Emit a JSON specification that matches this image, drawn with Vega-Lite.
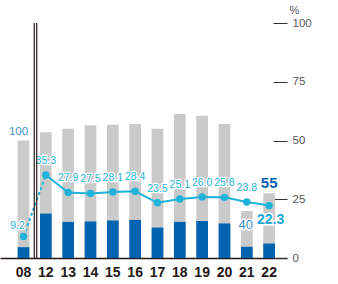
{
  "$schema": "https://vega.github.io/schema/vega-lite/v6.json",
  "width": 287,
  "height": 235,
  "autosize": {"type": "none"},
  "padding": {"left": 0, "top": 23, "right": 51, "bottom": 26},
  "config": {"view": {"stroke": null}, "font": "Liberation Sans, Arial, sans-serif"},
  "data": {
    "values": [
      {"year": "08", "total": 100, "part": 9.2, "pct": 9.2},
      {"year": "12", "total": 107, "part": 37.8, "pct": 35.3},
      {"year": "13", "total": 110, "part": 30.7, "pct": 27.9},
      {"year": "14", "total": 113, "part": 31.1, "pct": 27.5},
      {"year": "15", "total": 113.5, "part": 31.9, "pct": 28.1},
      {"year": "16", "total": 114, "part": 32.4, "pct": 28.4},
      {"year": "17", "total": 110, "part": 25.9, "pct": 23.5},
      {"year": "18", "total": 122.5, "part": 30.7, "pct": 25.1},
      {"year": "19", "total": 121, "part": 31.5, "pct": 26.0},
      {"year": "20", "total": 114, "part": 29.4, "pct": 25.8},
      {"year": "21", "total": 40, "part": 9.5, "pct": 23.8},
      {"year": "22", "total": 55, "part": 12.3, "pct": 22.3}
    ]
  },
  "encoding": {
    "x": {
      "field": "year", "type": "nominal", "sort": null, "title": null,
      "scale": {"paddingInner": 0.476, "paddingOuter": 0.664, "align": 0.595},
      "axis": {
        "labelAngle": 0, "ticks": false, "domainColor": "#231815", "domainWidth": 1.5,
        "labelFont": "Liberation Sans", "labelFontWeight": "bold", "labelFontSize": 14,
        "labelColor": "#231815", "labelPadding": 7
      }
    }
  },
  "layer": [
    {
      "encoding": {"y": {"type": "quantitative", "scale": {"domain": [0, 200], "nice": false}, "axis": null}},
      "layer": [
        {
          "mark": {"type": "bar", "color": "#c9caca"},
          "encoding": {"y": {"field": "total", "type": "quantitative", "scale": {"domain": [0, 200], "nice": false}, "axis": null}}
        },
        {
          "mark": {"type": "bar", "color": "#0063b0"},
          "encoding": {"y": {"field": "part", "type": "quantitative", "scale": {"domain": [0, 200], "nice": false}, "axis": null}}
        },
        {
          "transform": [{"filter": "datum.year == '08'"}],
          "mark": {"type": "text", "color": "#3d8fd1", "fontSize": 11.5, "dx": -5, "dy": -6, "baseline": "alphabetic"},
          "encoding": {"y": {"field": "total", "type": "quantitative", "scale": {"domain": [0, 200], "nice": false}, "axis": null}, "text": {"field": "total"}}
        },
        {
          "transform": [{"filter": "datum.year == '22'"}],
          "mark": {"type": "text", "color": "#0a5fae", "fontSize": 15, "fontWeight": "bold", "dy": -5.5, "baseline": "alphabetic"},
          "encoding": {"y": {"field": "total", "type": "quantitative", "scale": {"domain": [0, 200], "nice": false}, "axis": null}, "text": {"field": "total"}}
        },
        {
          "transform": [{"filter": "datum.year == '21'"}],
          "mark": {"type": "text", "color": "white", "stroke": "white", "strokeWidth": 3, "fontSize": 13, "dx": -1, "dy": 17.5, "baseline": "alphabetic"},
          "encoding": {"y": {"field": "total", "type": "quantitative", "scale": {"domain": [0, 200], "nice": false}, "axis": null}, "text": {"field": "total"}}
        },
        {
          "transform": [{"filter": "datum.year == '21'"}],
          "mark": {"type": "text", "color": "#3d8fd1", "fontSize": 13, "dx": -1, "dy": 17.5, "baseline": "alphabetic"},
          "encoding": {"y": {"field": "total", "type": "quantitative", "scale": {"domain": [0, 200], "nice": false}, "axis": null}, "text": {"field": "total"}}
        }
      ]
    },
    {
      "encoding": {
        "y": {
          "field": "pct", "type": "quantitative", "title": "%",
          "scale": {"domain": [0, 100], "nice": false},
          "axis": {
            "orient": "right", "values": [0, 25, 50, 75, 100], "domain": false, "grid": false,
            "offset": -14, "tickSize": 14, "tickColor": "#333333", "tickWidth": 1,
            "labelPadding": 5, "labelFont": "Liberation Sans", "labelFontSize": 11.5, "labelColor": "#595757",
            "titleAngle": 0, "titleX": 21, "titleY": -10, "titleAlign": "center", "titleBaseline": "alphabetic",
            "titleFont": "Liberation Sans", "titleFontSize": 11, "titleFontWeight": "normal", "titleColor": "#595757"
          }
        }
      },
      "layer": [
        {
          "transform": [{"filter": "datum.year == '08' || datum.year == '12'"}],
          "mark": {"type": "line", "color": "#1fb2da", "strokeWidth": 2, "strokeDash": [3, 2.5]}
        },
        {
          "transform": [{"filter": "datum.year != '08'"}],
          "mark": {"type": "line", "color": "#1fb2da", "strokeWidth": 2}
        },
        {
          "mark": {"type": "circle", "color": "#1fb2da", "opacity": 1, "size": 55}
        },
        {
          "transform": [{"filter": "datum.year != '08' && datum.year != '22'"}],
          "mark": {"type": "text", "color": "white", "stroke": "white", "strokeWidth": 2.5, "fontSize": 10.5, "dy": -11, "baseline": "alphabetic"},
          "encoding": {"text": {"field": "pct", "format": ".1f"}}
        },
        {
          "transform": [{"filter": "datum.year != '08' && datum.year != '22'"}],
          "mark": {"type": "text", "color": "#1fb2da", "fontSize": 10.5, "dy": -11, "baseline": "alphabetic"},
          "encoding": {"text": {"field": "pct", "format": ".1f"}}
        },
        {
          "transform": [{"filter": "datum.year == '08'"}],
          "mark": {"type": "text", "color": "white", "stroke": "white", "strokeWidth": 2.5, "fontSize": 10.5, "dx": -6, "dy": -7, "baseline": "alphabetic"},
          "encoding": {"text": {"field": "pct", "format": ".1f"}}
        },
        {
          "transform": [{"filter": "datum.year == '08'"}],
          "mark": {"type": "text", "color": "#1fb2da", "fontSize": 10.5, "dx": -6, "dy": -7, "baseline": "alphabetic"},
          "encoding": {"text": {"field": "pct", "format": ".1f"}}
        },
        {
          "transform": [{"filter": "datum.year == '22'"}],
          "mark": {"type": "text", "color": "white", "stroke": "white", "strokeWidth": 3, "fontSize": 14, "fontWeight": "bold", "dx": 1.5, "dy": 18.7, "baseline": "alphabetic"},
          "encoding": {"text": {"field": "pct", "format": ".1f"}}
        },
        {
          "transform": [{"filter": "datum.year == '22'"}],
          "mark": {"type": "text", "color": "#1aa6d6", "fontSize": 14, "fontWeight": "bold", "dx": 1.5, "dy": 18.7, "baseline": "alphabetic"},
          "encoding": {"text": {"field": "pct", "format": ".1f"}}
        }
      ]
    },
    {
      "data": {"values": [{"gap": "break"}]},
      "layer": [
        {
          "mark": {"type": "rule", "color": "#231815", "strokeWidth": 1.2},
          "encoding": {
            "x": {"datum": "08", "type": "nominal", "bandPosition": 1.42},
            "y": {"datum": 0, "type": "quantitative", "scale": {"domain": [0, 100], "nice": false}, "axis": null},
            "y2": {"datum": 100}
          }
        },
        {
          "mark": {"type": "rule", "color": "#231815", "strokeWidth": 1.2},
          "encoding": {
            "x": {"datum": "08", "type": "nominal", "bandPosition": 1.63},
            "y": {"datum": 0, "type": "quantitative", "scale": {"domain": [0, 100], "nice": false}, "axis": null},
            "y2": {"datum": 100}
          }
        }
      ]
    }
  ],
  "resolve": {"scale": {"y": "independent"}}
}
